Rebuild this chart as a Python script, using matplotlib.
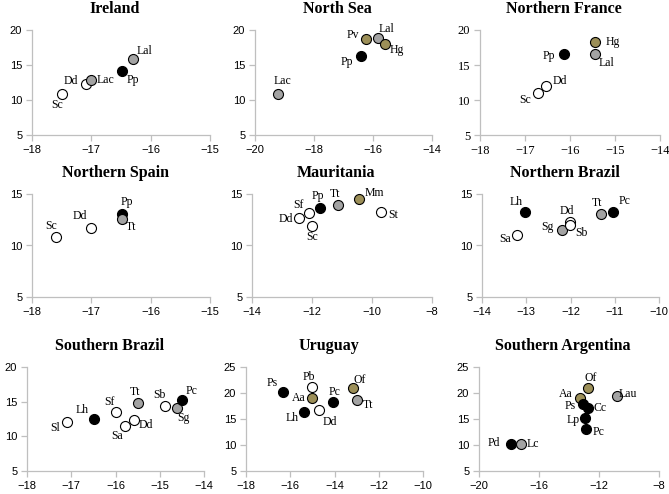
import matplotlib
matplotlib.use("Agg")
import matplotlib.pyplot as plt

# ---- data (x, y) ----
ireland_names = ["Sc", "Dd", "Lac", "Pp", "Lal"]
ireland_x = [-17.5, -17.09, -17.0, -16.49, -16.3]
ireland_y = [10.9, 12.3, 12.8, 14.15, 15.85]
ireland_grp = ["w", "w", "g", "k", "g"]

northsea_names = ["Lac", "Pp", "Pv", "Lal", "Hg"]
northsea_x = [-19.21, -16.42, -16.23, -15.82, -15.61]
northsea_y = [10.9, 16.25, 18.7, 18.85, 17.95]
northsea_grp = ["g", "k", "o", "g", "o"]

nfrance_names = ["Sc", "Dd", "Pp", "Hg", "Lal"]
nfrance_x = [-16.72, -16.54, -16.14, -15.45, -15.45]
nfrance_y = [11.0, 12.05, 16.5, 18.35, 16.5]
nfrance_grp = ["w", "w", "k", "o", "g"]

nspain_names = ["Sc", "Dd", "Pp", "Tt"]
nspain_x = [-17.6, -17.0, -16.49, -16.49]
nspain_y = [10.8, 11.7, 13.05, 12.6]
nspain_grp = ["w", "w", "k", "g"]

maur_names = ["Dd", "Sf", "Sc", "Pp", "Tt", "Mm", "St"]
maur_x = [-12.42, -12.11, -12.01, -11.72, -11.12, -10.42, -9.69]
maur_y = [12.65, 13.2, 11.9, 13.6, 13.9, 14.5, 13.3]
maur_grp = ["w", "w", "w", "k", "g", "o", "w"]

nbrazil_names = ["Sa", "Lh", "Sg", "Dd", "Sb", "Tt", "Pc"]
nbrazil_x = [-13.22, -13.03, -12.2, -12.02, -12.02, -11.32, -11.03]
nbrazil_y = [11.0, 13.3, 11.5, 12.3, 11.95, 13.05, 13.3]
nbrazil_grp = ["w", "k", "g", "w", "w", "g", "k"]

sbrazil_names = ["Sl", "Lh", "Sf", "Sa", "Dd", "Tt", "Sb", "Sg", "Pc"]
sbrazil_x = [-17.1, -16.48, -15.99, -15.78, -15.59, -15.49, -14.89, -14.6, -14.5]
sbrazil_y = [12.07, 12.55, 13.5, 11.44, 12.3, 14.86, 14.4, 14.1, 15.24]
sbrazil_grp = ["w", "k", "w", "w", "w", "g", "w", "g", "k"]

uru_names = ["Ps", "Pb", "Aa", "Lh", "Dd", "Pc", "Of", "Tt"]
uru_x = [-16.31, -15.01, -15.01, -15.4, -14.7, -14.09, -13.18, -12.97]
uru_y = [20.2, 21.2, 19.1, 16.3, 16.7, 18.2, 20.9, 18.7]
uru_grp = ["k", "w", "o", "k", "w", "k", "o", "g"]

sarg_names = ["Pd", "Lc", "Aa", "Of", "Ps", "Cc", "Lp", "Pc", "Lau"]
sarg_x = [-17.9, -17.2, -13.26, -12.74, -13.04, -12.71, -12.95, -12.84, -10.83]
sarg_y = [10.16, 10.16, 19.1, 20.9, 17.97, 17.2, 15.26, 13.06, 19.4]
sarg_grp = ["k", "g", "o", "o", "k", "k", "k", "k", "g"]

# ---- label offsets in pixels (layout only) ----
ireland_off = [(-5, -11), (-15, 3), (14, 0), (11, -9), (12, 8)]
northsea_off = [(4, 13), (-14, -6), (-13, 4), (8, 9), (12, -6)]
nfrance_off = [(-12, -7), (14, 5), (-15, -2), (18, 0), (12, -8)]
nspain_off = [(-5, 11), (-12, 12), (5, 12), (9, -8)]
maur_off = [(-14, -1), (-10, 8), (0, -11), (-3, 12), (-3, 11), (15, 6), (12, -3)]
nbrazil_off = [(-11, -4), (-9, 10), (-14, 3), (-3, 11), (12, -8), (-4, 11), (11, 11)]
sbrazil_off = [(-12, -6), (-12, 9), (-7, 10), (-8, -10), (12, -5), (-3, 11),
               (-5, 11), (6, -10), (10, 9)]
uru_off = [(-11, 9), (-3, 10), (-13, 0), (-11, -6), (11, -12), (2, 10), (7, 8), (11, -5)]
sarg_off = [(-17, 1), (12, 0), (-14, 4), (3, 10), (-13, -2), (12, 0), (-12, -2),
            (12, -3), (11, 2)]

colors = {"w": "white", "g": "#a3a3a3", "k": "black", "o": "#9c8f58"}

W, H = 669, 494
fig = plt.figure(figsize=(W / 100, H / 100), dpi=100)


def makeAxes(left, right, top, bottom):
    return fig.add_axes([left / W, 1 - bottom / H, (right - left) / W, (bottom - top) / H])


def panel(box, title, names, xs, ys, grp, offs, xlim, xticks, ylim, yticks, serifTicks=False):
    ax = makeAxes(*box)
    for i in range(len(names)):
        ax.scatter(xs[i], ys[i], s=52, c=colors[grp[i]], edgecolors="black",
                   linewidths=0.8, zorder=3, clip_on=False)
        ax.annotate(names[i], (xs[i], ys[i]), xytext=offs[i], textcoords="offset pixels",
                    ha="center", va="center", fontsize=8.5, family="Liberation Serif",
                    zorder=4)
    ax.set_xlim(xlim)
    ax.set_ylim(ylim)
    ax.set_xticks(xticks)
    ax.set_yticks(yticks)
    for s in ["top", "right"]:
        ax.spines[s].set_visible(False)
    for s in ["left", "bottom"]:
        ax.spines[s].set_color("#bfbfbf")
        ax.spines[s].set_linewidth(0.9)
    ax.tick_params(direction="out", length=4, width=0.9, color="#bfbfbf", pad=3)
    fam = "Liberation Serif" if serifTicks else "Liberation Sans"
    size = 9 if serifTicks else 8
    for lab in ax.get_xticklabels() + ax.get_yticklabels():
        lab.set_family(fam)
        lab.set_fontsize(size)
    ax.annotate(title, (0.5, 1), xycoords="axes fraction", xytext=(-6, 17),
                textcoords="offset pixels", ha="center", va="baseline",
                fontsize=11.5, fontweight="bold", family="Liberation Serif")
    return ax


panel((32, 210, 30, 135), "Ireland", ireland_names, ireland_x, ireland_y, ireland_grp,
      ireland_off, (-18, -15), [-18, -17, -16, -15], (5, 20), [5, 10, 15, 20])
panel((255, 432, 30, 135), "North Sea", northsea_names, northsea_x, northsea_y, northsea_grp,
      northsea_off, (-20, -14), [-20, -18, -16, -14], (5, 20), [5, 10, 15, 20])
panel((480, 660, 30, 135), "Northern France", nfrance_names, nfrance_x, nfrance_y, nfrance_grp,
      nfrance_off, (-18, -14), [-18, -17, -16, -15, -14], (5, 20), [5, 10, 15, 20],
      serifTicks=True)

panel((32, 210, 194, 297), "Northern Spain", nspain_names, nspain_x, nspain_y, nspain_grp,
      nspain_off, (-18, -15), [-18, -17, -16, -15], (5, 15), [5, 10, 15])
panel((252, 432, 194, 297), "Mauritania", maur_names, maur_x, maur_y, maur_grp,
      maur_off, (-14, -8), [-14, -12, -10, -8], (5, 15), [5, 10, 15])
panel((482, 659, 194, 297), "Northern Brazil", nbrazil_names, nbrazil_x, nbrazil_y, nbrazil_grp,
      nbrazil_off, (-14, -10), [-14, -13, -12, -11, -10], (5, 15), [5, 10, 15])

panel((27, 204, 367, 471), "Southern Brazil", sbrazil_names, sbrazil_x, sbrazil_y, sbrazil_grp,
      sbrazil_off, (-18, -14), [-18, -17, -16, -15, -14], (5, 20), [5, 10, 15, 20])
panel((246, 423, 367, 471), "Uruguay", uru_names, uru_x, uru_y, uru_grp,
      uru_off, (-18, -10), [-18, -16, -14, -12, -10], (5, 25), [5, 10, 15, 20, 25])
panel((479, 659, 367, 471), "Southern Argentina", sarg_names, sarg_x, sarg_y, sarg_grp,
      sarg_off, (-20, -8), [-20, -16, -12, -8], (5, 25), [5, 10, 15, 20, 25])

fig.savefig("out.png", dpi=100)
